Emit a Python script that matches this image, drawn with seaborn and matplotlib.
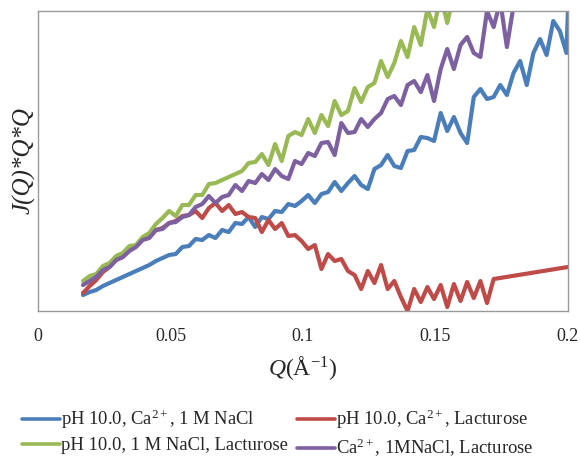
import matplotlib
matplotlib.use("Agg")
import matplotlib.pyplot as plt
import seaborn as sns
import pandas as pd

# Q grid (Å^-1) shared by the measured curves
q = [0.0170, 0.0195, 0.0220, 0.0245, 0.0270, 0.0295, 0.0320, 0.0345, 0.0370, 0.0395,
     0.0420, 0.0445, 0.0470, 0.0495, 0.0520, 0.0545, 0.0570, 0.0595, 0.0620, 0.0645,
     0.0670, 0.0695, 0.0720, 0.0745, 0.0770, 0.0795, 0.0820, 0.0845, 0.0870, 0.0895,
     0.0920, 0.0945, 0.0970, 0.0995, 0.1020, 0.1045, 0.1070, 0.1095, 0.1120, 0.1145,
     0.1170, 0.1195, 0.1220, 0.1245, 0.1270, 0.1295, 0.1320, 0.1345, 0.1370, 0.1395,
     0.1420, 0.1445, 0.1470, 0.1495, 0.1520, 0.1545, 0.1570, 0.1595, 0.1620, 0.1645,
     0.1670, 0.1695, 0.1720, 0.1745, 0.1770, 0.1795, 0.1820, 0.1845, 0.1870, 0.1895,
     0.1920, 0.1945, 0.1970, 0.1995, 0.2000]

# J(Q)*Q*Q, arbitrary units
ca_nacl = [16, 19, 21, 25, 28, 31, 34, 37, 40, 43, 46, 50, 53, 56, 57, 64, 65, 72, 71, 76,
           73, 81, 79, 88, 87, 94, 84, 94, 92, 100, 99, 107, 105, 110, 116, 108, 117, 119, 129, 120,
           128, 135, 126, 122, 142, 146, 156, 145, 143, 160, 161, 174, 173, 170, 198, 180, 194, 178, 168, 214,
           222, 212, 214, 226, 216, 238, 250, 226, 258, 272, 256, 290, 280, 258, 298]

ca_lact_q = q[:62] + [0.1720, 0.2000]
ca_lact = [18, 25, 31, 39, 44, 51, 54, 61, 65, 72, 74, 81, 83, 88, 90, 95, 96, 100, 93, 103,
           108, 100, 106, 97, 99, 94, 93, 79, 91, 82, 88, 75, 76, 70, 62, 66, 42, 57, 50, 52,
           40, 36, 22, 40, 28, 46, 22, 30, 14, 0, 22, 9, 24, 12, 26, 4, 27, 10, 29, 13,
           30, 8, 32, 44]

nacl_lact_q = q[:62]
nacl_lact = [30, 35, 37, 45, 48, 55, 58, 65, 66, 74, 78, 87, 93, 100, 95, 106, 106, 116, 116, 127,
             128, 131, 134, 137, 140, 148, 149, 157, 146, 167, 150, 175, 179, 176, 192, 178, 196, 185, 210, 196,
             200, 223, 209, 224, 228, 250, 234, 248, 270, 254, 284, 266, 302, 284, 315, 288, 318, 330, 340, 350,
             360, 370]

ca_nacl_lact_q = q[:68]
ca_nacl_lact = [26, 30, 34, 41, 44, 51, 54, 60, 64, 71, 73, 81, 82, 88, 89, 94, 96, 104, 107, 115,
                108, 114, 116, 126, 120, 130, 128, 137, 131, 142, 135, 132, 150, 147, 158, 155, 168, 169, 156, 188,
                178, 179, 192, 184, 192, 198, 212, 215, 206, 226, 230, 219, 236, 210, 242, 262, 242, 266, 274, 258,
                254, 300, 284, 310, 264, 305, 320, 330]

labels = ["pH 10.0, Ca$^{2+}$, 1 M NaCl",
          "pH 10.0, Ca$^{2+}$, Lacturose",
          "pH 10.0, 1 M NaCl, Lacturose",
          "Ca$^{2+}$, 1MNaCl, Lacturose"]
colors = ["#4A7EBB", "#BE4B48", "#98B954", "#7D60A0"]

frames = []
for lab, xs, ys in zip(labels,
                       [q, ca_lact_q, nacl_lact_q, ca_nacl_lact_q],
                       [ca_nacl, ca_lact, nacl_lact, ca_nacl_lact]):
    frames.append(pd.DataFrame({"Q": xs, "I": ys, "sample": lab}))
df = pd.concat(frames, ignore_index=True)

sns.set_style("white")
plt.rcParams["font.family"] = ["Liberation Serif", "DejaVu Serif"]
plt.rcParams["mathtext.fontset"] = "custom"
plt.rcParams["mathtext.rm"] = "Liberation Serif"
plt.rcParams["mathtext.it"] = "Liberation Serif:italic"

fig = plt.figure(figsize=(5.8, 4.59), dpi=100)
ax = fig.add_axes([0.0655, 0.3224, 0.9135, 0.6536])

sns.lineplot(data=df, x="Q", y="I", hue="sample", hue_order=labels,
             palette=colors, sort=False, estimator=None, linewidth=3.0,
             ax=ax, legend=False)

ax.set_xlim(0, 0.2)
ax.set_ylim(0, 300)
ax.set_xticks([0, 0.05, 0.1, 0.15, 0.2])
ax.set_xticklabels(["0", "0.05", "0.1", "0.15", "0.2"], fontsize=13)
ax.set_yticks([])
ax.tick_params(axis="x", length=0, pad=12)
for s in ax.spines.values():
    s.set_color("#999999")
    s.set_linewidth(1)
    s.set_visible(True)

ax.set_xlabel(r"$\mathit{Q}$(Å$^{\mathregular{-1}}$)", fontsize=17, labelpad=7)
ax.set_ylabel("J(Q)*Q*Q", fontsize=18, style="italic", labelpad=2)

# matplotlib fills legend columns first: order so rows read blue/red, green/purple
order = [0, 2, 1, 3]
handles = [plt.Line2D([0], [0], color=colors[i], linewidth=2.6) for i in order]
fig.legend(handles, [labels[i] for i in order], loc="upper left",
           bbox_to_anchor=(0.038, 0.111), ncol=2, frameon=False, fontsize=13.4,
           borderpad=0, borderaxespad=0, handlelength=2.05, handletextpad=0.05,
           columnspacing=0.5, labelspacing=0.3)

fig.savefig("out.png", dpi=100)
